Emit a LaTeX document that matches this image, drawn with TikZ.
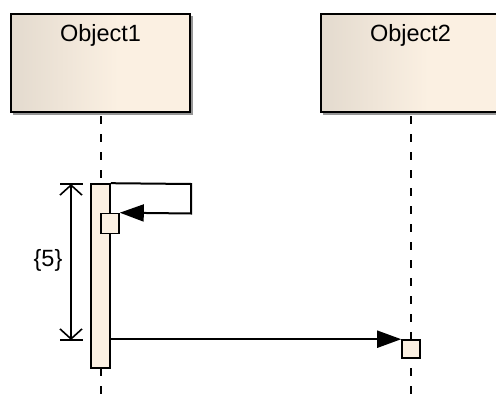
\documentclass[tikz,border=0pt]{standalone}
\usepackage{fontspec}
\setmainfont{Liberation Sans}
\usetikzlibrary{arrows.meta}
\definecolor{cream}{RGB}{251,240,226}
\definecolor{creamdark}{RGB}{227,218,206}
\definecolor{shadowgray}{RGB}{150,150,150}
\pgfdeclarehorizontalshading{headshade}{100bp}{color(0bp)=(creamdark);
  color(25bp)=(creamdark); color(55bp)=(cream); color(100bp)=(cream)}
\tikzset{
  objbox/.style={draw=black, line width=2pt, shading=headshade, inner sep=0pt,
    minimum width=179pt, minimum height=98pt},
  objlabel/.style={font=\fontsize{23.5}{26}\selectfont, anchor=base, inner sep=0pt},
  lifeline/.style={line width=2pt, dash pattern=on 8pt off 10pt},
  actbar/.style={draw=black, line width=1.6pt, fill=cream, inner sep=0pt,
    minimum width=19pt},
  callbox/.style={draw=black, line width=1.6pt, fill=cream, inner sep=0pt,
    minimum width=18pt},
  msg/.style={line width=2pt, -{Triangle[length=24pt,width=17pt]}},
  dimline/.style={line width=1.6pt},
  dimtip/.style={-{Straight Barb[length=10pt,width=22pt,line width=1.6pt]}},
}
\begin{document}
\begin{tikzpicture}[x=1pt, y=-1pt]
  \useasboundingbox (0,0) rectangle (496,399);

  % object heads with drop shadow
  \fill[shadowgray] (13,16) rectangle (192.5,114.5);
  \fill[shadowgray] (323,16) rectangle (502.5,114.5);
  \node[objbox] (obj1) at (100.5,63) {};
  \node[objbox] (obj2) at (410.5,63) {};
  \node[objlabel] (lbl1) at (100.5,41.5) {Object1};
  \node[objlabel] (lbl2) at (410.5,41.5) {Object2};

  % lifeline ends
  \coordinate (end1) at (101,399);
  \coordinate (end2) at (411,399);
  \coordinate (top1) at ([yshift=-3pt]obj1.south -| end1);
  \coordinate (top2) at ([yshift=-3pt]obj2.south -| end2);
  \draw[lifeline] (top1) -- (end1);
  \draw[lifeline] (top2) -- (end2);

  % activation and call boxes
  \node[actbar, minimum height=184pt] (bar) at (100.5,276) {};
  \node[callbox, minimum height=20pt] (self) at (110,223.5) {};
  \node[callbox, minimum height=18pt] (recv) at (411,349) {};

  % self message
  \coordinate (turn1) at (191,184);
  \coordinate (turn2) at (191,213.5);
  \draw[msg] (bar.north east) -- (turn1) -- (turn2) -- (self.north east);

  % message to Object2
  \draw[msg] (bar.east |- recv.north) -- (recv.north west);

  % duration marker
  \coordinate (dtop) at (71,184);
  \coordinate (dbot) at (71,340);
  \draw[dimline] ([xshift=-11pt]dtop) -- ([xshift=12pt]dtop);
  \draw[dimline] ([xshift=-11pt]dbot) -- ([xshift=12pt]dbot);
  \draw[dimline, dimtip] (dbot) -- (dtop);
  \draw[dimline, dimtip] (dtop) -- (dbot);
  \node[font=\fontsize{23.5}{26}\selectfont, inner sep=0pt] (dur) at (48,260) {\{5\}};
\end{tikzpicture}
\end{document}
